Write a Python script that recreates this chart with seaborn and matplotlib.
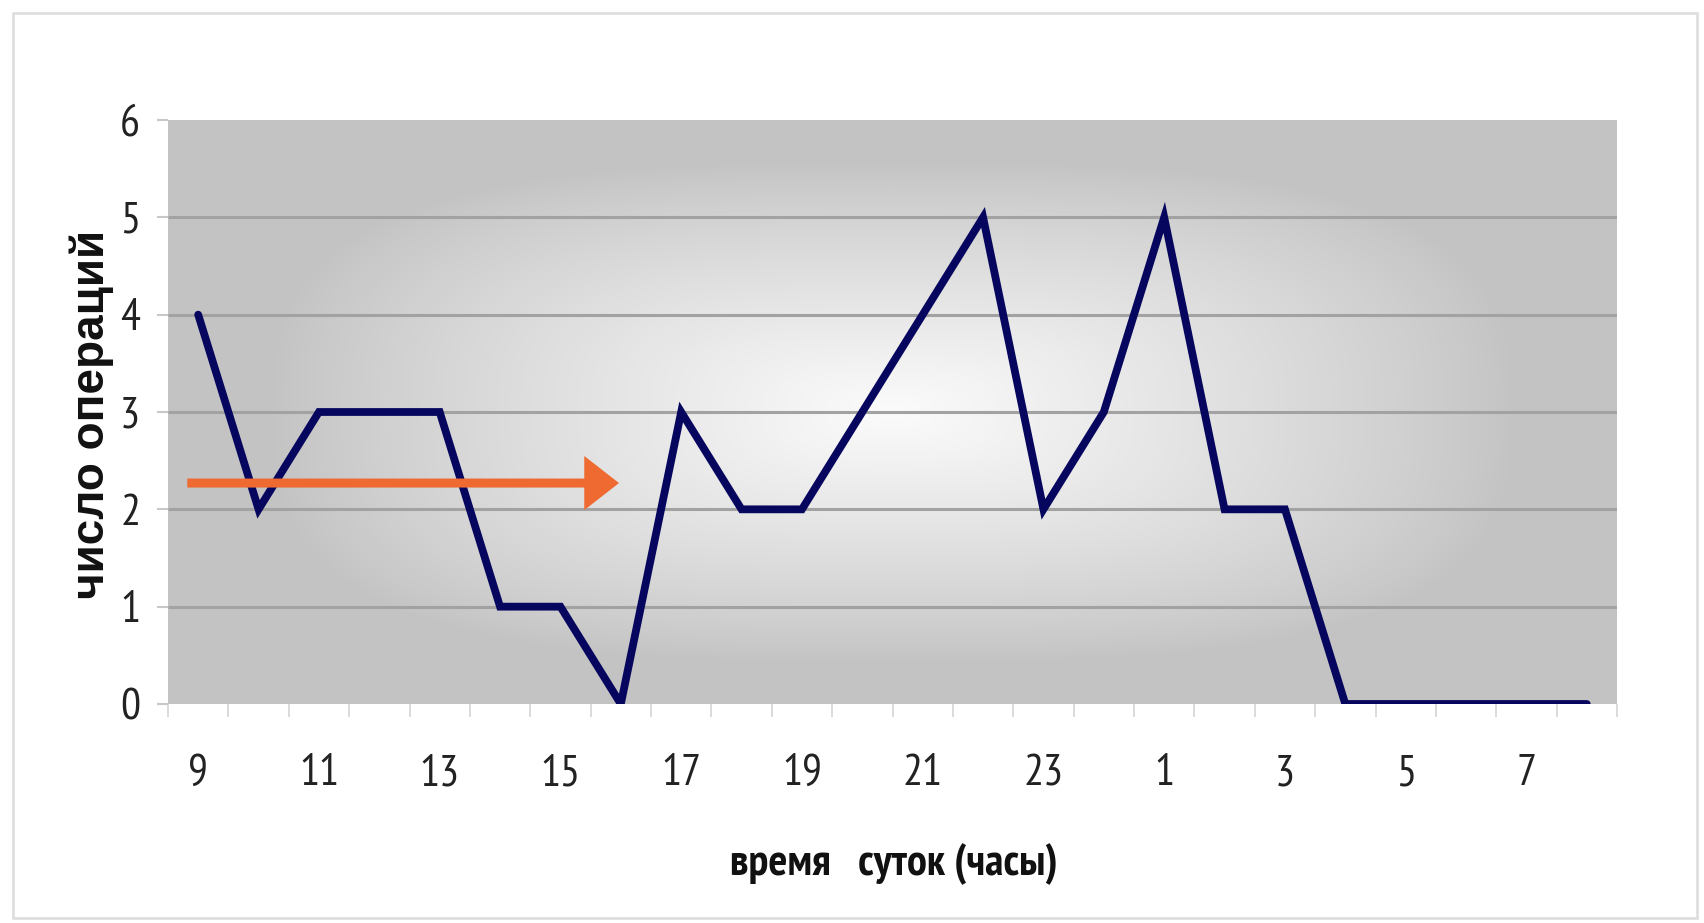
import numpy as np
import pandas as pd
import matplotlib
matplotlib.use("Agg")
import matplotlib.pyplot as plt
from matplotlib.patches import Rectangle
import seaborn as sns

# ---- data ----
hours = [9, 10, 11, 12, 13, 14, 15, 16, 17, 18, 19, 20, 21, 22, 23, 0, 1, 2, 3, 4, 5, 6, 7, 8]
operations = [4, 2, 3, 3, 3, 1, 1, 0, 3, 2, 2, 3, 4, 5, 2, 3, 5, 2, 2, 0, 0, 0, 0, 0]
tick_every = 2
y_ticks = [0, 1, 2, 3, 4, 5, 6]
x_title = "время   суток (часы)"
y_title = "число операций"
arrow_from = (-0.18, 2.27)
arrow_to = (6.97, 2.27)

df = pd.DataFrame({"pos": np.arange(len(hours)), "hour": hours, "ops": operations})

sns.set_theme(style="white")
NARROW = ["PT Sans Narrow", "Liberation Sans", "DejaVu Sans"]
plt.rcParams["font.family"] = NARROW

fig = plt.figure(figsize=(17.04, 9.23), dpi=100)
fig.patch.set_facecolor("white")
fig.patches.append(Rectangle((13 / 1704, 1 - 918 / 923), (1697 - 13) / 1704, (918 - 13) / 923,
                             transform=fig.transFigure, fill=False, edgecolor="#dcdcdc", lw=1.8))

ax = fig.add_axes([168 / 1704, 1 - 704 / 923, (1617 - 168) / 1704, (704 - 120) / 923])

# gradient background (white centre fading to gray edges)
nx, ny = 600, 300
u = np.linspace(-1, 1, nx)[None, :]
v = np.linspace(-1, 1, ny)[:, None]
t = (np.abs(u) ** 3 + np.abs(v) ** 3) ** (1 / 3)
w = np.clip(1 - t / 0.86, 0, 1) ** 0.85
gray, white = 0.765, 0.985
shade = gray + (white - gray) * w
img = np.dstack([shade, shade, shade])
xmin, xmax = -0.5, len(hours) - 0.5
ax.imshow(img, extent=(xmin, xmax, 0, 6), aspect="auto", zorder=0, interpolation="bilinear")

ax.set_xlim(xmin, xmax)
ax.set_ylim(0, 6)

# horizontal gridlines (inner values only)
ax.hlines(y_ticks[1:-1], xmin, xmax, colors="#a2a2a2", lw=2.2, zorder=1)

sns.lineplot(data=df, x="pos", y="ops", ax=ax, color="#06065e", lw=5.6, zorder=3,
             solid_joinstyle="miter")

ax.annotate("", xy=arrow_to, xytext=arrow_from,
            arrowprops=dict(arrowstyle="simple,head_length=2.5,head_width=3.9,tail_width=0.65",
                            mutation_scale=10, color="#ef6a30", lw=0, shrinkA=0, shrinkB=0),
            zorder=4)

ax.grid(False)
for s in ax.spines.values():
    s.set_visible(False)

# ticks
ax.set_yticks(y_ticks)
ax.set_yticklabels([str(y) for y in y_ticks])
major = df["pos"][::tick_every].tolist()
ax.set_xticks(major)
ax.set_xticklabels([str(h) for h in df["hour"][::tick_every]])
ax.set_xticks(np.arange(xmin, xmax + 0.01, 1.0), minor=True)
ax.tick_params(axis="x", which="major", length=0, pad=36, labelsize=32, labelcolor="#222222")
ax.tick_params(axis="x", which="minor", length=9, width=1.2, color="#d4d4d4", direction="out", bottom=True)
ax.tick_params(axis="y", which="major", length=8, width=1.5, color="#c8c8c8", direction="out",
               left=True, pad=12, labelsize=32, labelcolor="#222222")

ax.set_xlabel(x_title, fontsize=32, fontweight="bold", color="#111111", family=NARROW)
ax.set_ylabel(y_title, fontsize=33, fontweight="bold", color="#111111",
              family=["Liberation Sans", "DejaVu Sans"])
ax.xaxis.label.set_va("center")
ax.yaxis.label.set_va("center")
ax.xaxis.set_label_coords(0.501, -(864 - 704) / 584)
ax.yaxis.set_label_coords(-(168 - 92) / 1449, 0.495)

fig.savefig("out.png", dpi=100)
